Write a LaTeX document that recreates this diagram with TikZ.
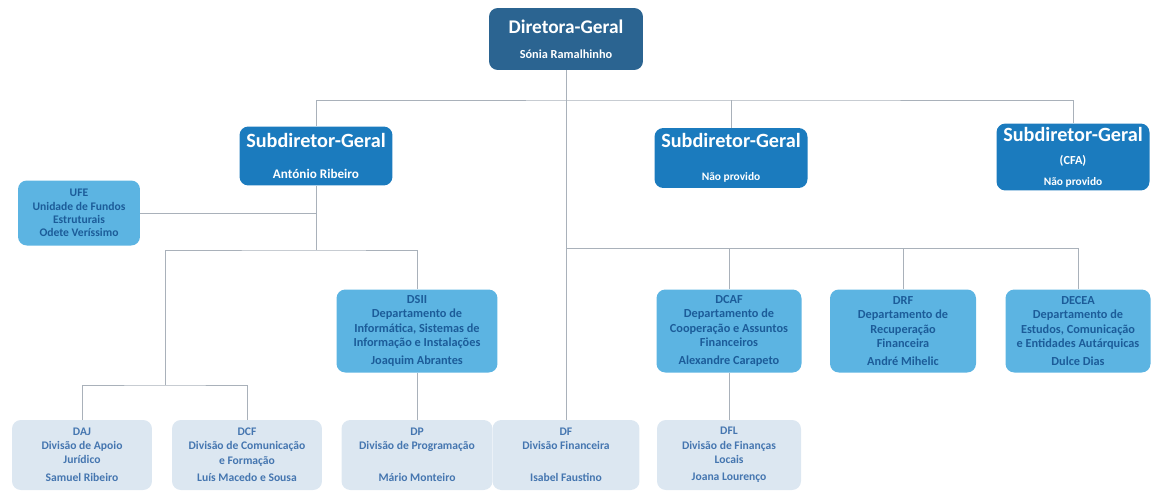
\documentclass[tikz,border=0pt]{standalone}
\usepackage{fontspec}
\setmainfont{Carlito}
\definecolor{dgblue}{HTML}{2B6491}
\definecolor{sdblue}{HTML}{1B7BBE}
\definecolor{dpblue}{HTML}{5CB4E2}
\definecolor{dvblue}{HTML}{DCE7F1}
\definecolor{txblue}{HTML}{1C5C99}
\definecolor{dvtext}{HTML}{4576B0}
\definecolor{linegrey}{HTML}{A9B1BA}
\tikzset{>=stealth,
  box/.style={rounded corners=5pt, align=center, inner sep=2pt, font=\bfseries},
  topbox/.style={box, fill=dgblue, text=white, minimum width=3.08cm, minimum height=1.24cm},
  subbox/.style={box, fill=sdblue, text=white, minimum width=3.06cm, minimum height=1.18cm},
  deptbox/.style={box, fill=dpblue, text=txblue, minimum width=2.9cm, minimum height=1.66cm, font=\bfseries\fontsize{7}{8.2}\selectfont},
  divbox/.style={box, fill=dvblue, text=dvtext, minimum width=2.9cm, minimum height=1.4cm, font=\bfseries\fontsize{6.6}{8}\selectfont},
  link/.style={draw=linegrey, line width=0.5pt}}

\begin{document}
\begin{tikzpicture}[x=0.02cm, y=-0.02cm]
\useasboundingbox (0,0) rectangle (1158,494);
% direcao
\node[topbox] (dg) at (566,39) {{\fontsize{11}{12}\selectfont Diretora-Geral}\\[2pt]{\fontsize{7}{8}\selectfont Sónia Ramalhinho}};
\node[subbox] (sub1) at (316,156) {{\fontsize{11.5}{12}\selectfont Subdiretor-Geral}\\[6pt]{\fontsize{7.5}{8}\selectfont António Ribeiro}};
\node[subbox, minimum height=1.2cm] (sub2) at (731,158) {{\fontsize{11.5}{12}\selectfont Subdiretor-Geral}\\[7pt]{\fontsize{6.5}{7}\selectfont Não provido}};
\node[subbox] (sub3) at (1073,157) {{\fontsize{11.5}{12}\selectfont Subdiretor-Geral}\\[1pt]{\fontsize{7}{8}\selectfont (CFA)}\\{\fontsize{6.5}{7}\selectfont Não provido}};
% unidades e departamentos
\node[deptbox, minimum width=2.44cm, minimum height=1.3cm, font=\bfseries\fontsize{6.6}{7.6}\selectfont] (ufe) at (79,213) {UFE\\Unidade de Fundos\\Estruturais\\Odete Veríssimo};
\node[deptbox, minimum width=3.22cm] (dsii) at (417,331) {DSII\\Departamento de\\Informática, Sistemas de\\Informação e Instalações\\[2pt]Joaquim Abrantes};
\node[deptbox] (dcaf) at (729,331) {DCAF\\Departamento de\\Cooperação e Assuntos\\Financeiros\\[2pt]Alexandre Carapeto};
\node[deptbox, minimum width=2.92cm] (drf) at (903,331) {DRF\\Departamento de\\Recuperação\\Financeira\\[2pt]André Mihelic};
\node[deptbox] (decea) at (1078,331) {DECEA\\Departamento de\\Estudos, Comunicação\\e Entidades Autárquicas\\[2pt]Dulce Dias};
% divisoes
\node[divbox, minimum width=2.8cm] (daj) at (82,455) {DAJ\\Divisão de Apoio\\Jurídico\\[2pt]Samuel Ribeiro};
\node[divbox, minimum width=3.0cm] (dcf) at (247,455) {DCF\\Divisão de Comunicação\\e Formação\\[2pt]Luís Macedo e Sousa};
\node[divbox, minimum width=3.02cm] (dp) at (417,455) {DP\\Divisão de Programação\\[10pt]Mário Monteiro};
\node[divbox, minimum width=2.94cm] (df) at (566,455) {DF\\Divisão Financeira\\[10pt]Isabel Faustino};
\node[divbox, minimum width=2.88cm] (dfl) at (729,455) {DFL\\Divisão de Finanças\\Locais\\[2pt]Joana Lourenço};
% ligacoes
\coordinate (bustop) at (731,100);
\coordinate (busleft) at (316,250);
\coordinate (busdiv) at (165,385);
\coordinate (busright) at (566,248);
\path[link] (dg.south) -- (df.north);
\path[link] (sub1.north) |- (bustop) -| (sub3.north);
\path[link] (sub2.north) -- (bustop);
\path[link] (ufe.east) -- (ufe.east -| sub1.south);
\path[link] (sub1.south) -- (busleft);
\path[link] (dsii.north) |- (busleft) -| (busdiv);
\path[link] (daj.north) |- (busdiv) -| (dcf.north);
\path[link] (dsii.south) -- (dp.north);
\path[link] (busright) -| (decea.north);
\path[link] (dcaf.north) -- (dcaf.north |- busright);
\path[link] (drf.north) -- (drf.north |- busright);
\path[link] (dcaf.south) -- (dfl.north);
\end{tikzpicture}
\end{document}
